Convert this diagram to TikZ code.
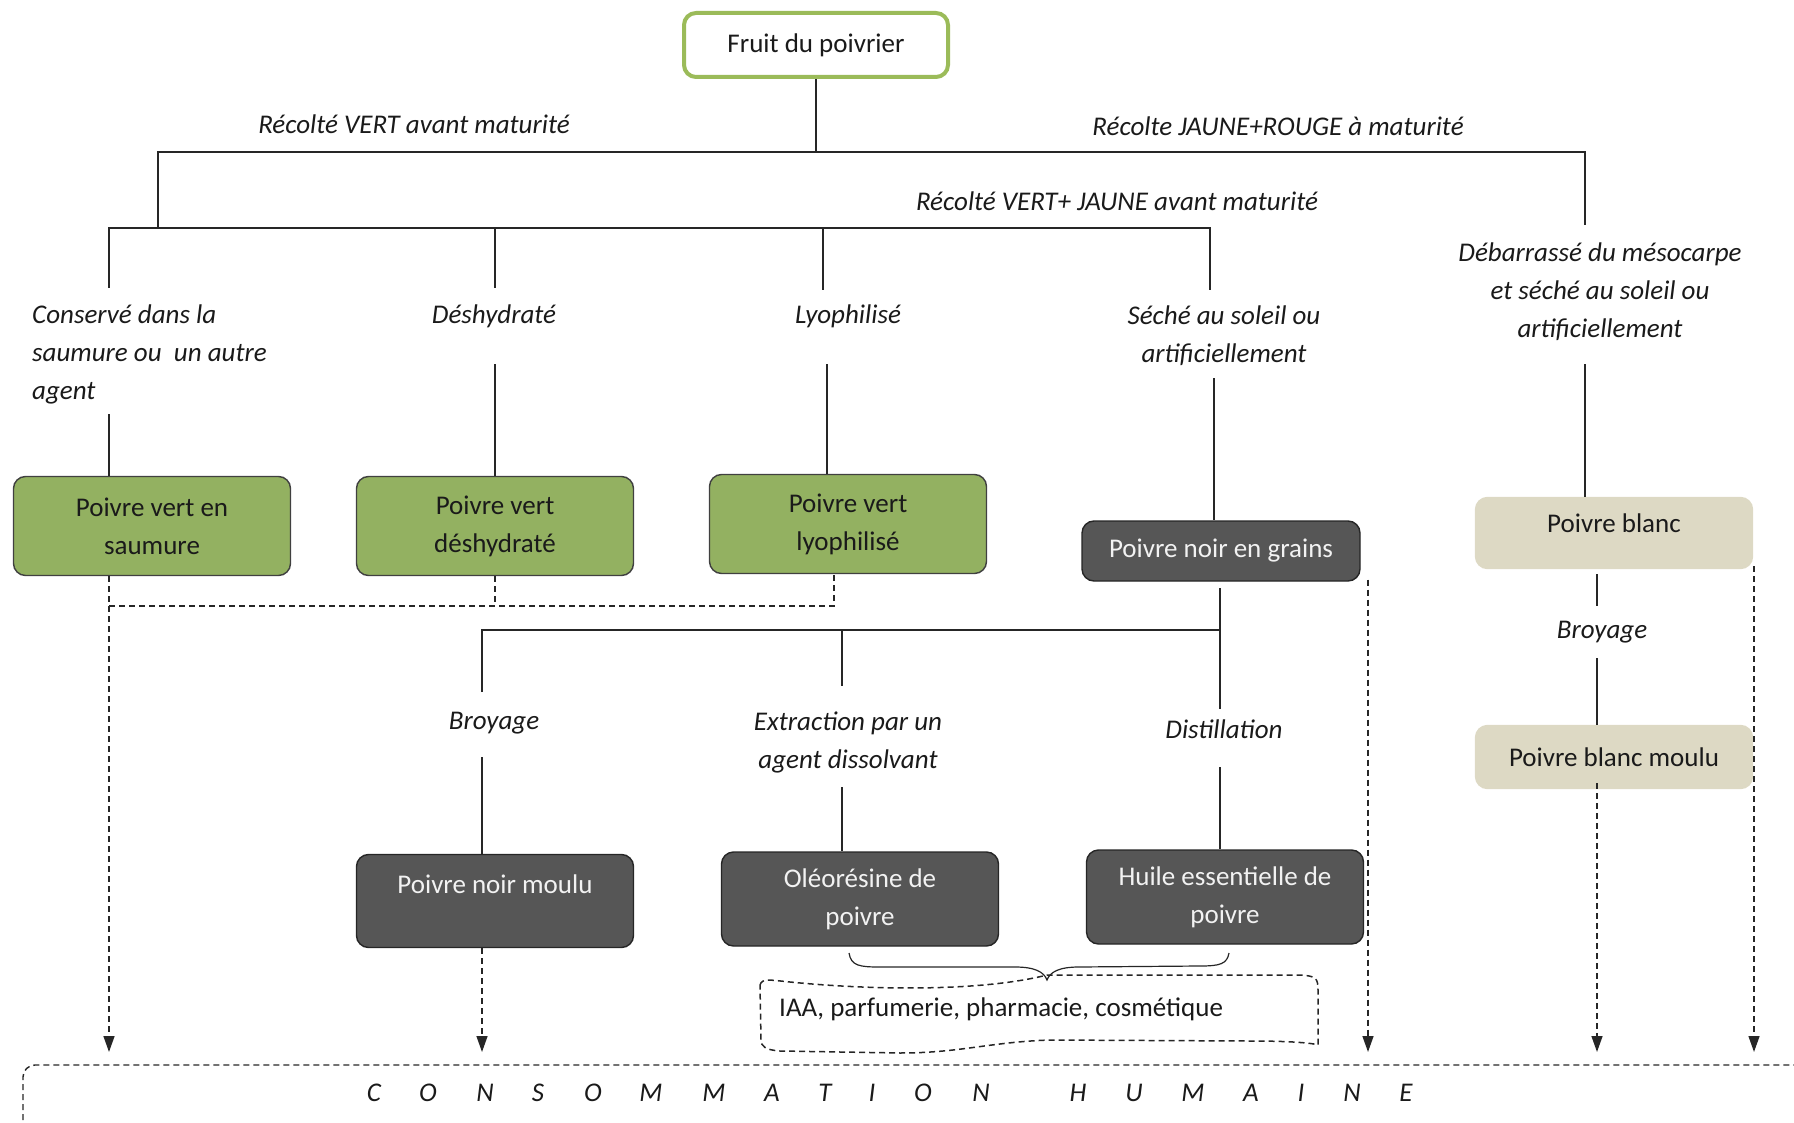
\documentclass[tikz,border=0pt]{standalone}
\usepackage{fontspec}
\setmainfont{Carlito}
\usetikzlibrary{arrows.meta}
\definecolor{fgreen}{HTML}{9BBB59}
\definecolor{bgreen}{HTML}{93B161}
\definecolor{bdark}{HTML}{565656}
\definecolor{btan}{HTML}{DDD9C4}
\definecolor{txt}{HTML}{1A1A1A}
\begin{document}
\begin{tikzpicture}[x=1pt,y=-1pt,
  font=\fontsize{27}{38}\selectfont, text=txt,
  conn/.style={draw=black!85, line width=1.4pt},
  dsh/.style={draw=black!85, line width=1.4pt, dash pattern=on 6pt off 4pt},
  arr/.style={dsh, -{Triangle[length=16pt,width=11pt]}},
  lbl/.style={font=\fontsize{27}{38}\selectfont\itshape, align=center, inner sep=0},
  basebox/.style={rounded corners=12pt, line width=1.4pt, align=center, minimum width=277pt, inner sep=0},
  greenbox/.style={basebox, draw=black!75, fill=bgreen, minimum height=99pt},
  darkbox/.style={basebox, draw=black!85, fill=bdark, text=white!95!black},
  tanbox/.style={basebox, draw=btan, fill=btan}
]
\useasboundingbox (0,0) rectangle (1794,1123);

% top node
\node[basebox, draw=fgreen, line width=4pt, fill=white, minimum width=264pt, minimum height=64pt] (fruit) at (816,45) {Fruit du poivrier};

% junction coordinates
\coordinate (t0) at (816,152);
\coordinate (tl) at (158,152);
\coordinate (tr) at (1585,152);
\coordinate (tl2) at (158,228);
\coordinate (trd) at (1585,225);
\coordinate (h1) at (109,228);
\coordinate (h2) at (495,228);
\coordinate (h3) at (823,228);
\coordinate (h4) at (1210,228);
\coordinate (d1) at (109,288);
\coordinate (d2) at (495,288);
\coordinate (d3) at (823,290);
\coordinate (d4) at (1210,290);

% labels
\node[lbl] (lvert) at (414,124) {Récolté VERT avant maturité};
\node[lbl] (ljr) at (1278,126) {Récolte JAUNE+ROUGE à maturité};
\node[lbl] (lvj) at (1117,201) {Récolté VERT+ JAUNE avant maturité};
\node[lbl, align=left, anchor=west] (lcons) at (32,354) {Conservé dans la\\saumure ou \ un autre\\agent};
\node[lbl] (ldes) at (494,316) {Déshydraté};
\node[lbl] (llyo) at (848,316) {Lyophilisé};
\node[lbl] (lsec) at (1224,336) {Séché au soleil ou\\artificiellement};
\node[lbl] (ldeb) at (1600,292) {Débarrassé du mésocarpe\\et séché au soleil ou\\artificiellement};

% boxes row 1
\node[greenbox] (b1) at (152,526) {Poivre vert en\\saumure};
\node[greenbox] (b2) at (495,526) {Poivre vert\\déshydraté};
\node[greenbox] (b3) at (848,524) {Poivre vert\\lyophilisé};
\node[darkbox, minimum width=278pt, minimum height=60pt] (bng) at (1221,551) {Poivre noir en grains};
\node[tanbox, minimum height=71pt, text height=20pt, text depth=22pt] (bb) at (1614,533) {Poivre blanc};
\node[tanbox, minimum height=63pt] (bbm) at (1614,757) {Poivre blanc moulu};

% row 2
\node[darkbox, minimum height=93pt, text height=20pt, text depth=36pt] (bnm) at (495,901) {Poivre noir moulu};
\node[darkbox, minimum height=94pt] (bol) at (860,899) {Oléorésine de\\poivre};
\node[darkbox, minimum height=94pt] (bhu) at (1225,897) {Huile essentielle de\\poivre};

\node[lbl] (lbr1) at (494,723) {Broyage};
\node[lbl] (lext) at (848,742) {Extraction par un\\agent dissolvant};
\node[lbl] (ldis) at (1224,729) {Distillation};
\node[lbl] (lbr2) at (1602,632) {Broyage};

% solid connectors top
\draw[conn] (fruit.south) -- (t0);
\draw[conn] (tl2) -- (tl) -- (tr) -- (trd);
\draw[conn] (d1) -- (h1) -- (h4) -- (d4);
\draw[conn] (h2) -- (d2);
\draw[conn] (h3) -- (d3);

\coordinate (e1) at (109,414);
\coordinate (e2) at (495,364);
\coordinate (e3) at (827,364);
\coordinate (e4) at (1214,378);
\coordinate (e5) at (1585,364);
\draw[conn] (e1) -- (b1.north -| e1);
\draw[conn] (e2) -- (b2.north -| e2);
\draw[conn] (e3) -- (b3.north -| e3);
\draw[conn] (e4) -- (bng.north -| e4);
\draw[conn] (e5) -- (bb.north -| e5);

% black pepper branch
\coordinate (g0) at (1220,588);
\coordinate (g1) at (482,630);
\coordinate (g2) at (842,630);
\coordinate (g3) at (1220,630);
\coordinate (g1b) at (482,692);
\coordinate (g2b) at (842,686);
\coordinate (g3b) at (1220,709);
\draw[conn] (g1b) -- (g1) -- (g3);
\draw[conn] (g0) -- (g3b);
\draw[conn] (g2) -- (g2b);
\coordinate (f1) at (482,757);
\coordinate (f2) at (842,787);
\coordinate (f3) at (1220,767);
\draw[conn] (f1) -- (bnm.north -| f1);
\draw[conn] (f2) -- (bol.north -| f2);
\draw[conn] (f3) -- (bhu.north -| f3);

% white pepper branch
\coordinate (w1) at (1597,574);
\coordinate (w2) at (1597,606);
\coordinate (w3) at (1597,658);
\draw[conn] (w1) -- (w2);
\draw[conn] (w3) -- (bbm.north -| w3);

% dashed connectors
\coordinate (k1) at (109,606);
\coordinate (k2) at (495,606);
\coordinate (k3) at (834,606);
\coordinate (a1) at (109,1052);
\coordinate (a2) at (482,1052);
\coordinate (a3) at (1368,1052);
\coordinate (a4) at (1597,1052);
\coordinate (a5) at (1754,1052);
\draw[dsh] (b2.south -| k2) -- (k2);
\draw[dsh] (k1) -- (k3) -- (b3.south -| k3);
\draw[arr] (b1.south -| a1) -- (a1);
\draw[arr] (bnm.south -| a2) -- (a2);
\draw[arr] ([yshift=2pt]bng.south -| a3) -- (a3);
\draw[arr] ([yshift=6pt]bbm.south -| a4) -- (a4);
\draw[arr] ([yshift=3pt]bb.south -| a5) -- (a5);

% brace
\draw[conn, line width=1.2pt] (849,953) .. controls (851,966) and (860,967) .. (880,967)
  -- (1015,967) .. controls (1035,967) and (1044,972) .. (1047,980)
  .. controls (1050,972) and (1059,967) .. (1079,967)
  -- (1200,966) .. controls (1220,966) and (1227,964) .. (1229,953);

% IAA wavy box
\node[inner sep=0, anchor=west] (iaa) at (779,1009) {IAA, parfumerie, pharmacie, cosmétique};
\draw[dsh, line width=1.5pt] (760,985) .. controls (762,978) and (770,980) .. (790,982)
  .. controls (870,990) and (980,992) .. (1047,975)
  -- (1300,975) .. controls (1316,976) and (1318,978) .. (1318,990)
  -- (1318,1045) .. controls (1316,1044) and (1300,1041) .. (1250,1041)
  -- (1050,1040) .. controls (990,1042) and (960,1053) .. (900,1053)
  -- (780,1051) .. controls (765,1050) and (761,1046) .. (761,1040) -- cycle;

% consommation humaine frame
\draw[dsh, rounded corners=12pt] (23,1130) -- (23,1065) -- (1808,1065) -- (1808,1130);
\foreach \xx/\ll [count=\i] in {374/C,428/O,485/N,538/S,593/O,651/M,714/M,772/A,825/T,872/I,923/O,981/N,1078/H,1134/U,1193/M,1251/A,1301/I,1352/N,1406/E}
  \node[lbl] (ch\i) at (\xx,1093) {\ll};
\end{tikzpicture}
\end{document}
